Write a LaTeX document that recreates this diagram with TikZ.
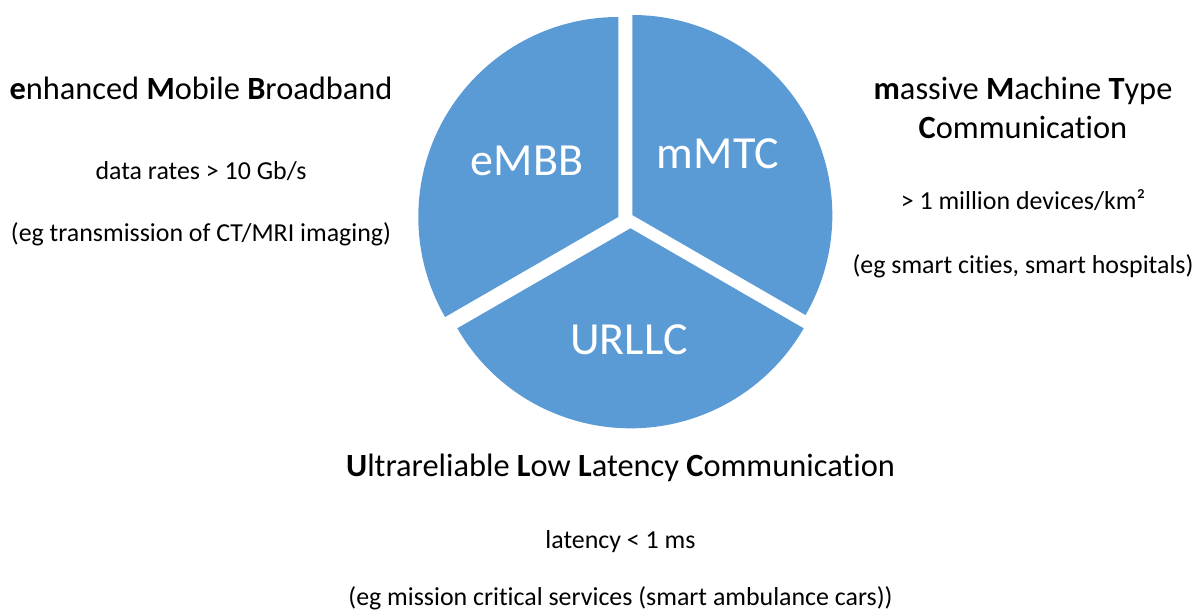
\documentclass[tikz,border=0pt]{standalone}
\usepackage{fontspec}
\setmainfont{Carlito}[Ligatures=NoCommon]
\definecolor{pieblue}{HTML}{5B9BD5}
\begin{document}
\begin{tikzpicture}[x=1pt,y=-1pt,
  piefill/.style={fill=pieblue},
  pielabel/.style={anchor=base,text=white,font=\fontsize{46}{50}\selectfont,inner sep=0pt},
  headtxt/.style={anchor=base,font=\fontsize{32.4}{38}\selectfont,inner sep=0pt},
  bodytxt/.style={anchor=base,font=\fontsize{25.9}{30}\selectfont,inner sep=0pt}]
\useasboundingbox (0,0) rectangle (1200,613);
% apexes of the exploded sectors
\coordinate (ae) at (618.3,217);
\coordinate (am) at (632.3,215);
\coordinate (au) at (630.5,228.3);
\fill[piefill] (ae) -- ++(90:200pt) arc[start angle=90,end angle=210,radius=200pt] -- cycle;
\fill[piefill] (am) -- ++(-30:200pt) arc[start angle=-30,end angle=90,radius=200pt] -- cycle;
\fill[piefill] (au) -- ++(210:200pt) arc[start angle=210,end angle=330,radius=200pt] -- cycle;
% sector labels
\node[pielabel] (lemb) at (527,175) {eMBB};
\node[pielabel] (lmmt) at (718,168) {mMTC};
\node[pielabel] (lurl) at (629,354) {URLLC};
% left block
\node[headtxt] (t1) at (201,99) {\textbf{e}nhanced \textbf{M}obile \textbf{B}roadband};
\node[bodytxt] (t1a) at (201,179) {data rates > 10 Gb/s};
\node[bodytxt] (t1b) at (201,241) {(eg transmission of CT/MRI imaging)};
% right block
\node[headtxt] (t2) at (1023,99) {\textbf{m}assive \textbf{M}achine \textbf{T}ype};
\node[headtxt] (t2c) at (1023,138) {\textbf{C}ommunication};
\node[bodytxt] (t2a) at (1023,209) {> 1 million devices/km²};
\node[bodytxt] (t2b) at (1023,273) {(eg smart cities, smart hospitals)};
% bottom block
\node[headtxt] (t3) at (620.5,476) {\textbf{U}ltrareliable \textbf{L}ow \textbf{L}atency \textbf{C}ommunication};
\node[bodytxt] (t3a) at (620.5,548) {latency < 1 ms};
\node[bodytxt] (t3b) at (620.5,605.5) {(eg mission critical services (smart ambulance cars))};
\end{tikzpicture}
\end{document}
